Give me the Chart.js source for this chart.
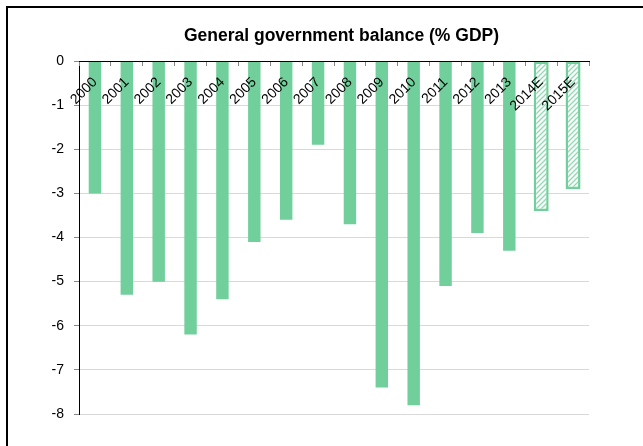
<!DOCTYPE html>
<html>
<head>
<meta charset="utf-8">
<script src="https://cdn.jsdelivr.net/npm/chart.js@4"></script>
<style>
  html, body { margin: 0; padding: 0; background: #fff; overflow: hidden; }
  #wrap { position: relative; width: 643px; height: 446px; }
  #frame { position: absolute; left: 6px; top: 6px; width: 700px; height: 500px;
           border-left: 2px solid #000; border-top: 2px solid #000; box-sizing: border-box; }
  canvas { position: absolute; left: 0; top: 0; }
</style>
</head>
<body>
<div id="wrap">
  <div id="frame"></div>
  <canvas id="c" width="643" height="446"></canvas>
</div>
<script>
const TITLE = 'General government balance (% GDP)';
const categories = ['2000','2001','2002','2003','2004','2005','2006','2007','2008','2009','2010','2011','2012','2013','2014E','2015E'];
const actualValues = [-3.0, -5.3, -5.0, -6.2, -5.4, -4.1, -3.6, -1.9, -3.7, -7.4, -7.8, -5.1, -3.9, -4.3, null, null];
const estimateValues = [null, null, null, null, null, null, null, null, null, null, null, null, null, null, -3.4, -2.9];
const yTicks = [0, -1, -2, -3, -4, -5, -6, -7, -8];

const GREEN = '#70cf9b';
const FONT = "'Liberation Sans', Arial, sans-serif";

function makeHatch() {
  const s = 5;
  const p = document.createElement('canvas');
  p.width = s; p.height = s;
  const c = p.getContext('2d');
  c.fillStyle = '#fff';
  c.fillRect(0, 0, s, s);
  c.strokeStyle = '#8fdab1';
  c.lineWidth = 1.3;
  c.beginPath();
  c.moveTo(-1, s + 1); c.lineTo(s + 1, -1);
  c.moveTo(-1, 1); c.lineTo(1, -1);
  c.moveTo(s - 1, s + 1); c.lineTo(s + 1, s - 1);
  c.stroke();
  return c.createPattern(p, 'repeat');
}

const titlePlugin = {
  id: 'titleText',
  afterDraw(chart) {
    const ctx = chart.ctx;
    ctx.save();
    ctx.font = 'bold 17.5px ' + FONT;
    ctx.fillStyle = '#000';
    ctx.textAlign = 'center';
    ctx.textBaseline = 'middle';
    ctx.fillText(TITLE, 341.5, 36);
    ctx.restore();
  }
};

const ctx = document.getElementById('c').getContext('2d');
new Chart(ctx, {
  type: 'bar',
  data: {
    labels: categories,
    datasets: [
      {
        data: actualValues,
        backgroundColor: GREEN,
        borderWidth: 0,
        barPercentage: 0.39,
        categoryPercentage: 1,
        grouped: false
      },
      {
        data: estimateValues,
        backgroundColor: makeHatch(),
        borderColor: GREEN,
        borderWidth: 2.5,
        borderSkipped: false,
        barPercentage: 0.47,
        categoryPercentage: 1,
        grouped: false
      }
    ]
  },
  options: {
    responsive: false,
    animation: false,
    devicePixelRatio: 1,
    layout: { padding: { left: 0, right: 54, top: 61, bottom: 32 } },
    plugins: {
      legend: { display: false },
      title: { display: false },
      tooltip: { enabled: false }
    },
    scales: {
      x: {
        position: { y: 0 },
        offset: true,
        grid: {
          drawOnChartArea: false,
          drawTicks: true,
          tickLength: 4,
          tickColor: '#888',
          offset: true,
          z: 1
        },
        border: { display: true, color: '#000', width: 1, z: 1 },
        ticks: {
          font: { family: FONT, size: 14 },
          color: '#000',
          minRotation: 45,
          maxRotation: 45,
          autoSkip: false,
          padding: 9,
          z: 1
        }
      },
      y: {
        min: -8,
        max: 0,
        afterFit(scale) { scale.width = 79; },
        afterBuildTicks(scale) { scale.ticks = yTicks.map(v => ({ value: v })); },
        grid: {
          color: '#d9d9d9',
          borderDash: [2, 2],
          tickColor: '#888',
          tickLength: 5,
          tickBorderDash: []
        },
        border: { display: true, color: '#000', width: 1 },
        ticks: {
          font: { family: FONT, size: 14 },
          color: '#000',
          padding: 10
        }
      }
    }
  },
  plugins: [titlePlugin]
});
</script>
</body>
</html>
